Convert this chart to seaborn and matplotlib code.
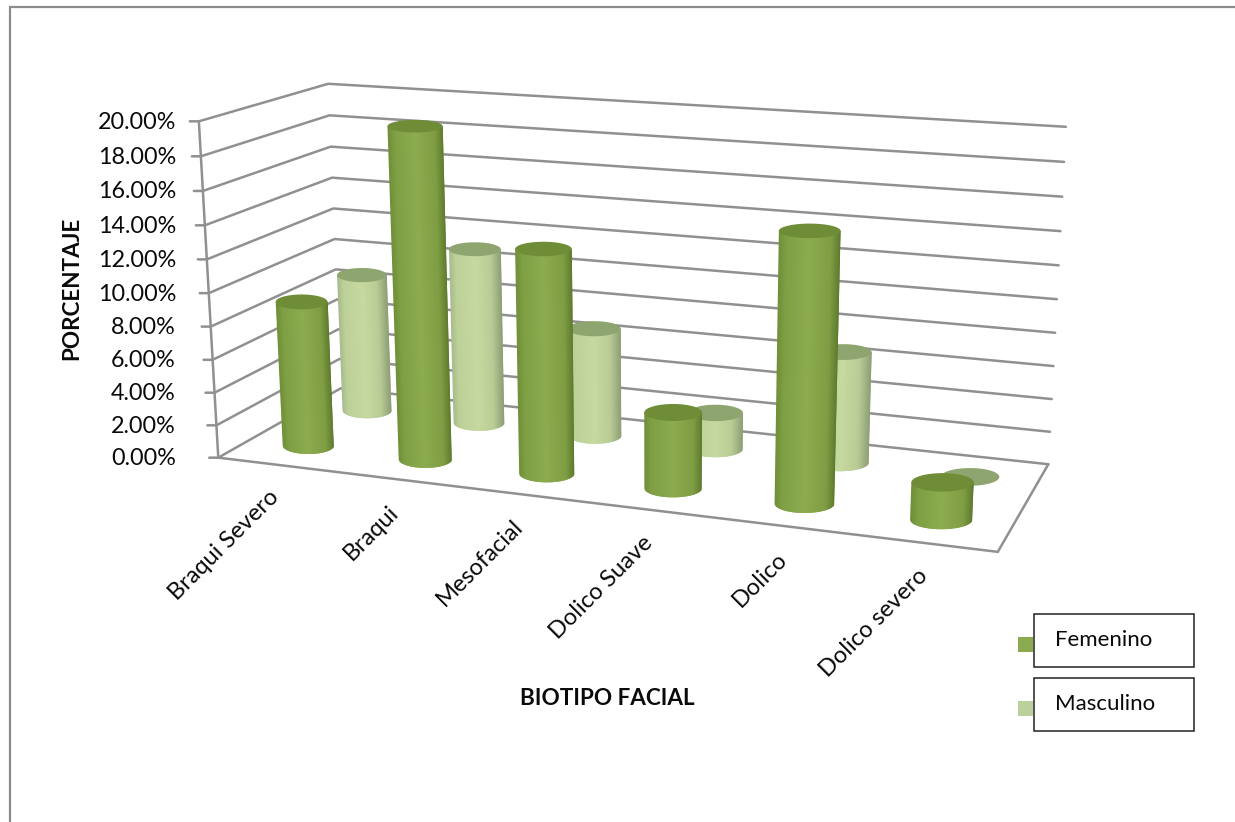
import numpy as np
import pandas as pd
import matplotlib
matplotlib.use("Agg")
import matplotlib.pyplot as plt
from matplotlib.colors import LinearSegmentedColormap
from matplotlib.patches import Rectangle
import seaborn as sns

categories = ["Braqui Severo", "Braqui", "Mesofacial", "Dolico Suave", "Dolico", "Dolico severo"]
femenino = [8.9, 19.8, 13.3, 4.5, 15.5, 2.15]
masculino = [8.8, 11.05, 6.75, 2.25, 6.75, 0.0]
series_names = ["Femenino", "Masculino"]
tick_values = [0, 2, 4, 6, 8, 10, 12, 14, 16, 18, 20]
axis_max = 20.0

sns.set_theme(style="white")
plt.rcParams["font.family"] = ["Lato", "DejaVu Sans"]

palette = sns.color_palette(["#8BA94F", "#BBD09A"])
GRID = "#909090"
INK = "#0A0A0A"

fig = plt.figure(figsize=(12.35, 8.22), dpi=100, facecolor="white")
ax = fig.add_axes([0, 0, 1, 1])
ax.set_xlim(0, 1235)
ax.set_ylim(822, 0)
ax.axis("off")

# Camera for the 3-D box: (along categories, depth, value), each in 0..1
box_world = np.array([[0, 0, 0], [0, 0, 1], [0, 1, 0], [0, 1, 1], [1, 1, 0], [1, 1, 1], [1, 0, 0]], float)
box_screen = np.array([[217, 456], [200, 122], [342, 390], [327, 83], [1048, 463], [1066, 127], [998, 553]], float)


def solve_camera(world, screen):
    rows = []
    for (X, Y, Z), (x, y) in zip(world, screen):
        h = [X, Y, Z, 1]
        rows.append(h + [0, 0, 0, 0] + [-x * c for c in h])
        rows.append([0, 0, 0, 0] + h + [-y * c for c in h])
    return np.linalg.svd(np.array(rows))[2][-1].reshape(3, 4)


CAM = solve_camera(box_world, box_screen)


def project(u, v, w):
    u, v, w = np.broadcast_arrays(np.asarray(u, float), np.asarray(v, float), np.asarray(w, float))
    q = CAM @ np.stack([u, v, w, np.ones_like(u)])
    return q[0] / q[2], q[1] / q[2]


# Wall and floor gridlines
records = []
for t in tick_values:
    w = t / axis_max
    fx, fy = project(0, 0, w)
    bx, by = project(0, 1, w)
    rx, ry = project(1, 1, w)
    for order, (x, y) in enumerate([(fx - 9, fy), (fx, fy), (bx, by), (rx, ry)]):
        records.append({"level": t, "order": order, "x": float(x), "y": float(y)})
grid = pd.DataFrame(records)
sns.lineplot(data=grid, x="x", y="y", units="level", estimator=None, sort=False, color=GRID, lw=1.8, ax=ax, legend=False, zorder=1)
ax.set_xlim(0, 1235)
ax.set_ylim(822, 0)
ax.axis("off")

ex, ey = project([0, 1, 1], [0, 0, 1], [0, 0, 0])
ax.plot(ex, ey, color=GRID, lw=1.8, zorder=1, solid_joinstyle="miter")
ax.plot(*project([0, 0], [0, 0], [0, 1]), color=GRID, lw=1.8, zorder=1)

ramp_f = LinearSegmentedColormap.from_list(
    "fem", [(0, "#6F8F38"), (0.12, "#7F9F44"), (0.5, "#8DAC50"), (0.85, "#7F9E43"), (1, "#5F7C2E")])
ramp_m = LinearSegmentedColormap.from_list(
    "mas", [(0, "#A8BA8E"), (0.12, "#BCD097"), (0.5, "#C5D9A0"), (0.8, "#B9CC95"), (1, "#8E9F76")])
cap_f = "#6F8D36"
cap_m = "#8FA570"

RADIUS_U = 0.037
RADIUS_V = 0.1
theta = np.linspace(0, 2 * np.pi, 90, endpoint=False)
STRIPS = 70


def ring(cu, depth, level):
    # Level ellipse at one height of a column, kept square to the page
    xl, _ = project(cu - RADIUS_U, depth, level)
    xr, _ = project(cu + RADIUS_U, depth, level)
    _, yn = project(cu, depth - RADIUS_V, level)
    _, yf = project(cu, depth + RADIUS_V, level)
    cx, cy = project(cu, depth, level)
    return float(cx), float(cy), float(xr - xl) / 2, 3.5 + 0.33 * float(abs(yn - yf))


def cylinder(i, depth, value, ramp, cap, z):
    cu = (i + 0.5) / len(categories)
    tcx, tcy, thw, thh = ring(cu, depth, value / axis_max)
    if value > 0:
        bcx, bcy, bhw, bhh = ring(cu, depth, 0)
        edges = np.linspace(0, 1, STRIPS + 1)
        for k in range(STRIPS):
            s0, s1 = edges[k], edges[k + 1]
            mid = np.linspace(s0, s1, 4)
            base_x = bcx + bhw * (2 * mid - 1)
            base_y = bcy + bhh * np.sqrt(np.clip(1 - (2 * mid - 1) ** 2, 0, 1))
            # Each strip runs a little under the next one to hide the seams
            spill = 0.9 if k < STRIPS - 1 else 0.0
            xs = np.r_[tcx + thw * (2 * s0 - 1), tcx + thw * (2 * s1 - 1) + spill, base_x[-1] + spill, base_x[::-1]]
            ys = np.r_[tcy, tcy, base_y[-1], base_y[::-1]]
            ax.fill(xs, ys, color=ramp((s0 + s1) / 2), lw=0, zorder=z)
    ax.fill(tcx + thw * np.cos(theta), tcy + thh * np.sin(theta), color=cap, lw=0, zorder=z + 0.1)


# Back row first so that the front row hides it
for i, val in enumerate(masculino):
    cylinder(i, 0.75, val, ramp_m, cap_m, 2)
for i, val in enumerate(femenino):
    cylinder(i, 0.25, val, ramp_f, cap_f, 3)

# Value axis labels
for t in tick_values:
    _, y = project(0, 0, t / axis_max)
    ax.text(176, float(y) + 1, f"{t:.2f}%", ha="right", va="center", fontsize=16.8, color=INK)

# Category labels
for i, name in enumerate(categories):
    x, y = project((i + 0.5) / len(categories), 0, 0)
    ax.text(float(x) - 8, float(y) + 22, name, rotation=45, rotation_mode="anchor", ha="right", va="top",
            fontsize=17, color=INK)

ax.text(72, 288, "PORCENTAJE", rotation=90, ha="center", va="center", fontsize=16.2, fontweight="bold", color=INK)
ax.text(607, 698, "BIOTIPO FACIAL", ha="center", va="center", fontsize=16.2, fontweight="bold", color=INK)

# Legend boxes and swatches
legend_tops = [614, 678]
for name, color, top in zip(series_names, palette, legend_tops):
    ax.add_patch(Rectangle((1034, top), 160, 52.5, fc="white", ec="#222222", lw=1.1, zorder=4))
    ax.add_patch(Rectangle((1018, top + 23), 15, 15, fc=color, ec="none", zorder=4))
    ax.text(1055, top + 26, name, ha="left", va="center", fontsize=16, color=INK, zorder=5)

# Chart frame: only its top and left edges fall inside the page
ax.plot([1235, 9.5, 9.5], [7, 7, 822], color="#8C8C8C", lw=1.6, zorder=0, solid_joinstyle="miter")

fig.savefig("out.png", dpi=100, facecolor="white")
